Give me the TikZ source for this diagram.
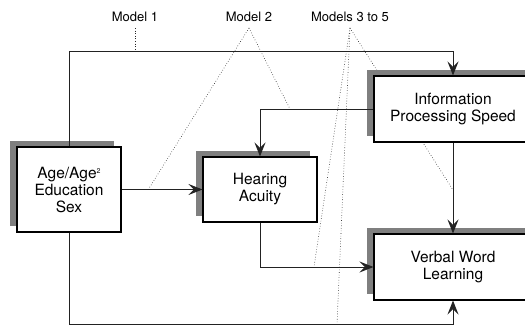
\documentclass[tikz,border=0pt]{standalone}
\usepackage{fontspec}
\setmainfont{TeX Gyre Heros}
\usetikzlibrary{arrows.meta,shadows}
\definecolor{shadowgray}{HTML}{7F7F7F}
\definecolor{linegray}{HTML}{222222}
\begin{document}
\begin{tikzpicture}[x=1pt,y=-1pt,
  box/.style={draw=black, line width=1.1pt, fill=white, align=center,
    font=\fontsize{15.5}{17}\selectfont, inner sep=0pt,
    general shadow={fill=shadowgray, shadow xshift=-7pt, shadow yshift=6pt}},
  conn/.style={draw=linegray, line width=0.9pt},
  arr/.style={conn, -{Stealth[length=14pt,width=11pt,inset=5.5pt]}},
  modlab/.style={font=\fontsize{13}{15}\selectfont, anchor=base, inner xsep=0pt,
    inner ysep=3pt, outer sep=3pt, text depth=0pt},
  dot/.style={draw=black!85, line width=0.6pt, dotted}]
\useasboundingbox (0,0) rectangle (525,326);
% labels
\node[modlab] (m1) at (135,22) {Model 1};
\node[modlab] (m2) at (249,22) {Model 2};
\node[modlab] (m35) at (350,22) {Models 3 to 5};
% dotted line targets
\coordinate (d1) at (135,52);
\coordinate (d2a) at (148,190);
\coordinate (d2b) at (290,109);
\coordinate (d3a) at (314,267);
\coordinate (d3b) at (337,324);
\coordinate (d3c) at (453,190);
\draw[dot] (m1.south) -- (d1);
\draw[dot] (m2.south) -- (d2a);
\draw[dot] (m2.south) -- (d2b);
\draw[dot] (m35.south) -- (d3a);
\draw[dot] (m35.south) -- (d3b);
\draw[dot] (m35.south) -- (d3c);
% boxes
\node[box, minimum width=104pt, minimum height=85pt] (age) at (69,189.5)
  {Age/Age{\fontsize{7}{7}\selectfont\raisebox{5pt}{2}}\\Education\\Sex};
\node[box, minimum width=114pt, minimum height=65pt] (hear) at (260,189.5)
  {Hearing\\Acuity};
\node[box, minimum width=158pt, minimum height=66pt] (info) at (453,109)
  {Information\\Processing Speed};
\node[box, minimum width=158pt, minimum height=66pt] (verb) at (453,267)
  {Verbal Word\\Learning};
% connectors
\draw[arr] (age.north) -- ++(0,-95) -| (info.north);
\draw[arr] (age.east) -- (hear.west);
\draw[arr] (info.west) -| (hear.north);
\draw[arr] (hear.south) |- (verb.west);
\draw[arr] (info.south) -- (verb.north);
\draw[arr] (age.south) -- ++(0,92) -| (verb.south);
\end{tikzpicture}
\end{document}
